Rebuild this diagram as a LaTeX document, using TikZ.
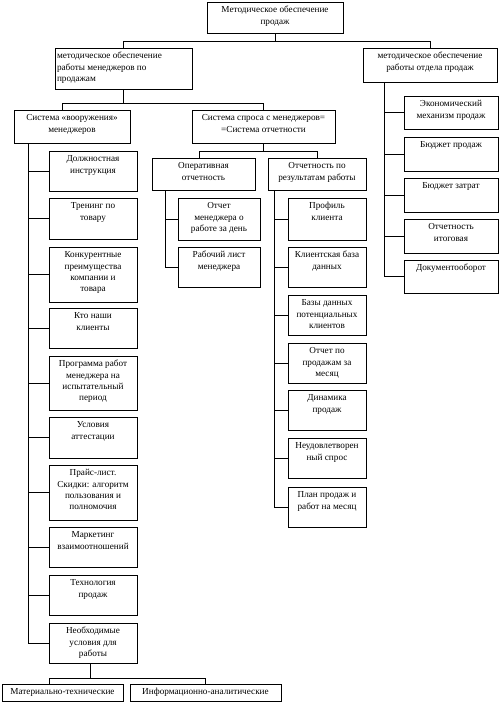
\documentclass[tikz,border=0pt]{standalone}
\usepackage{fontspec}
\setmainfont{Liberation Serif}
\tikzset{
  box/.style={draw, line width=0.7pt, inner xsep=2pt, inner ysep=3pt, outer sep=0pt,
    font=\fontsize{9.2}{11.3}\selectfont},
  conn/.style={line width=0.7pt}
}
\newcommand{\bx}[7][\centering]{%
  \pgfmathsetmacro{\bxw}{#5-#3-4}%
  \pgfmathsetmacro{\bxh}{#6-#4-6}%
  \node[box, anchor=north west] (#2) at (#3,#4) {\parbox[c][\bxh pt][t]{\bxw pt}{#1\strut #7}};%
}
\begin{document}
\begin{tikzpicture}[x=1pt,y=-1pt]
\useasboundingbox (0,0) rectangle (500,705);
% level 0-1
\bx{top}{207}{2}{343}{33}{Методическое обеспечение\\продаж}
\bx[\raggedright]{L1}{55}{48}{192}{89}{методическое обеспечение\\работы менеджеров по\\продажам}
\bx{R1}{363}{48}{497}{82}{методическое обеспечение\\работы отдела продаж}
% level 2
\bx{S1}{14}{110}{130}{143}{Система «вооружения»\\менеджеров}
\bx{S2}{192}{110}{335}{143}{Система спроса с менеджеров=\\=Система отчетности}
% level 3 under S2
\bx{O1}{152}{158}{255}{190}{Оперативная\\отчетность}
\bx{O2}{268}{158}{366}{190}{Отчетность по\\результатам работы}
% O1 children
\bx{oc1}{178}{198}{260}{240}{Отчет\\менеджера о\\работе за день}
\bx{oc2}{178}{247}{260}{287}{Рабочий лист\\менеджера}
% O2 children
\bx{pc1}{288}{198}{366}{240}{Профиль\\клиента}
\bx{pc2}{288}{247}{366}{287}{Клиентская база\\данных}
\bx{pc3}{288}{295}{366}{335}{Базы данных\\потенциальных\\клиентов}
\bx{pc4}{288}{343}{366}{383}{Отчет по\\продажам за\\месяц}
\bx{pc5}{288}{390}{366}{430}{Динамика\\продаж}
\bx{pc6}{288}{438}{366}{478}{Неудовлетворен\\ный спрос}
\bx{pc7}{288}{487}{366}{527}{План продаж и\\работ на месяц}
% S1 children
\bx{sc1}{49}{151}{137}{191}{Должностная\\инструкция}
\bx{sc2}{49}{198}{137}{239}{Тренинг по\\товару}
\bx{sc3}{49}{247}{137}{302}{Конкурентные\\преимущества\\компании и\\товара}
\bx{sc4}{49}{308}{137}{348}{Кто наши\\клиенты}
\bx{sc5}{49}{356}{137}{410}{Программа работ\\менеджера на\\испытательный\\период}
\bx{sc6}{49}{417}{137}{458}{Условия\\аттестации}
\bx{sc7}{49}{465}{137}{520}{Прайс-лист.\\Скидки: алгоритм\\пользования и\\полномочия}
\bx{sc8}{49}{527}{137}{567}{Маркетинг\\взаимоотношений}
\bx{sc9}{49}{575}{137}{615}{Технология\\продаж}
\bx{sc10}{49}{623}{137}{663}{Необходимые\\условия для\\работы}
% bottom
\bx{m1}{2}{684}{123}{701}{Материально-технические}
\bx{m2}{130}{684}{281}{701}{Информационно-аналитические}
% R1 children
\bx{rc1}{404}{96}{498}{129}{Экономический\\механизм продаж}
\bx{rc2}{404}{137}{498}{171}{Бюджет продаж}
\bx{rc3}{404}{178}{498}{212}{Бюджет затрат}
\bx{rc4}{404}{219}{498}{253}{Отчетность\\итоговая}
\bx{rc5}{404}{260}{498}{293}{Документооборот}

% connectors
\coordinate (b1) at (0,41);
\draw[conn] (top.south) -- (top.south |- b1);
\draw[conn] (L1.north) |- (b1 -| R1.north) -- (R1.north);

\coordinate (b2) at (0,103);
\draw[conn] (L1.south) -- (L1.south |- b2);
\draw[conn] ([xshift=-10pt]S1.north) |- (b2 -| S2.north) -- (S2.north);

\coordinate (b3) at (0,151);
\draw[conn] (S2.south) -- (S2.south |- b3);
\draw[conn] ([xshift=-4pt]O1.north) |- (b3 -| O2.north) -- (O2.north);

% right spine
\coordinate (spR) at (384,82);
\draw[conn] (spR) |- (rc5.west);
\foreach \n in {rc1,rc2,rc3,rc4}{\draw[conn] (\n.west) -- (\n.west -| spR);}

% left spine
\coordinate (spL) at (28,143);
\draw[conn] (spL) |- (sc10.west);
\foreach \n in {sc1,sc2,sc3,sc4,sc5,sc6,sc7,sc8,sc9}{\draw[conn] (\n.west) -- (\n.west -| spL);}

% O1 spine
\coordinate (spO1) at (165,190);
\draw[conn] (spO1) |- (oc2.west);
\draw[conn] (oc1.west) -- (oc1.west -| spO1);

% O2 spine
\coordinate (spO2) at (274,190);
\draw[conn] (spO2) |- (pc7.west);
\foreach \n in {pc1,pc2,pc3,pc4,pc5,pc6}{\draw[conn] (\n.west) -- (\n.west -| spO2);}

% bottom
\coordinate (b4) at (0,678);
\draw[conn] ([xshift=-3pt]sc10.south) -- ([xshift=-3pt]sc10.south |- b4);
\draw[conn] ([xshift=-13.5pt]m1.north) |- (b4 -| m2.north) -- ([xshift=0pt]m2.north);
\end{tikzpicture}
\end{document}
